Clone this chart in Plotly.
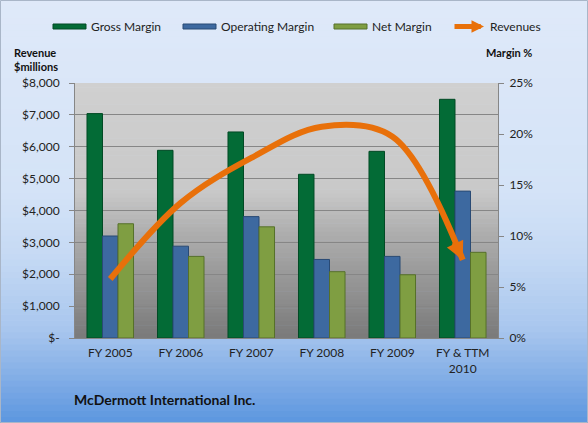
import plotly.graph_objects as go

categories = ["FY 2005", "FY 2006", "FY 2007", "FY 2008", "FY 2009", "FY & TTM<br>2010"]
gross_margin = [0.220, 0.184, 0.202, 0.1605, 0.183, 0.234]
operating_margin = [0.100, 0.090, 0.119, 0.077, 0.080, 0.144]
net_margin = [0.112, 0.080, 0.109, 0.065, 0.062, 0.084]
revenues = [1850, 4240, 5650, 6630, 6320, 2450]
rev_tickvals = [0, 1000, 2000, 3000, 4000, 5000, 6000, 7000, 8000]
rev_ticktext = ["$-", "$1,000", "$2,000", "$3,000", "$4,000", "$5,000", "$6,000", "$7,000", "$8,000"]
series_names = ["Gross Margin", "Operating Margin", "Net Margin", "Revenues"]

W, H = 588, 423
ML, MR, MT, MB = 75, 90, 83, 85
PW, PH = W - ML - MR, H - MT - MB
FONT = "Lato"
ORANGE = "#E8700A"
BAR_COLORS = ["#036B36", "#3D69A0", "#7F9E42"]
BAR_EDGES = ["#024A25", "#294A74", "#56702A"]


def px2px(X):
    return (X - ML) / PW


def py2py(Y):
    return (H - MB - Y) / PH


def hex2rgb(h):
    h = h.lstrip("#")
    return tuple(int(h[i:i + 2], 16) for i in (0, 2, 4))


def interp(stops, t):
    for (t0, c0), (t1, c1) in zip(stops, stops[1:]):
        if t0 <= t <= t1:
            f = (t - t0) / (t1 - t0) if t1 > t0 else 0
            a, b = hex2rgb(c0), hex2rgb(c1)
            return "rgb(%d,%d,%d)" % tuple(round(a[i] + (b[i] - a[i]) * f) for i in range(3))
    return stops[-1][1]


shapes = []
# figure background gradient
paper_stops = [(0, "#DFE9F9"), (0.45, "#D4E3F7"), (0.6, "#C6DAF4"), (0.78, "#A8C6EE"),
               (0.9, "#80ACE6"), (1.0, "#5B96DF")]
N = 70
for i in range(N):
    Y0 = H * i / N
    Y1 = H * (i + 1) / N + 0.6
    shapes.append(dict(type="rect", xref="paper", yref="paper", layer="below",
                       x0=px2px(0), x1=px2px(W), y0=py2py(Y1), y1=py2py(Y0),
                       line=dict(width=0), fillcolor=interp(paper_stops, (i + 0.5) / N)))
# plot area gradient
plot_stops = [(0, "#D0D0D0"), (0.42, "#C9C9C9"), (0.6, "#ACACAC"), (1.0, "#7A7A7A")]
M = 60
for i in range(M):
    Y0 = MT + PH * i / M
    Y1 = MT + PH * (i + 1) / M + 0.6
    shapes.append(dict(type="rect", xref="paper", yref="paper", layer="below",
                       x0=0, x1=1, y0=py2py(min(Y1, MT + PH)), y1=py2py(Y0),
                       line=dict(width=0), fillcolor=interp(plot_stops, (i + 0.5) / M)))
# outer border
shapes.append(dict(type="rect", xref="paper", yref="paper", layer="below",
                   x0=px2px(0.5), x1=px2px(W - 0.5), y0=py2py(H - 0.5), y1=py2py(0.5),
                   line=dict(width=1, color="#A9B6C8"), fillcolor="rgba(0,0,0,0)"))

# custom legend (Excel style)
LEG_Y = 26.5
leg_sym_x = [53, 183, 334]
leg_text_x = [89, 219, 370, 488]
for sx, col, edge in zip(leg_sym_x, BAR_COLORS, BAR_EDGES):
    shapes.append(dict(type="rect", xref="paper", yref="paper", layer="above",
                       x0=px2px(sx), x1=px2px(sx + 33), y0=py2py(LEG_Y + 2.5),
                       y1=py2py(LEG_Y - 2.5), line=dict(width=1, color=edge), fillcolor=col))

annotations = []
for tx, name in zip(leg_text_x, series_names):
    annotations.append(dict(text=name, xref="paper", yref="paper", x=px2px(tx),
                            y=py2py(LEG_Y), xanchor="left", yanchor="middle",
                            showarrow=False, font=dict(size=12, color="#222222")))
annotations.append(dict(text="", xref="paper", yref="paper", x=px2px(484), y=py2py(LEG_Y),
                        ax=-31, ay=0, showarrow=True, arrowhead=2, arrowsize=0.5,
                        arrowwidth=5, arrowcolor=ORANGE))

fig = go.Figure()
for name, vals, col, edge in zip(series_names[:3], [gross_margin, operating_margin, net_margin],
                                 BAR_COLORS, BAR_EDGES):
    fig.add_trace(go.Bar(x=categories, y=vals, name=name, yaxis="y",
                         marker=dict(color=col, line=dict(color=edge, width=1))))

fig.add_trace(go.Scatter(
    x=categories, y=revenues, yaxis="y2", mode="lines", name="Revenues",
    line=dict(color=ORANGE, width=6, shape="spline", smoothing=1.0)))

# arrowhead at the end of the revenue line
annotations.append(dict(text="", xref="x", yref="y2", x=categories[-1], y=revenues[-1],
                        ax=-9, ay=-19, showarrow=True, arrowhead=2, arrowsize=0.6,
                        arrowwidth=6, arrowcolor=ORANGE))

annotations += [
    dict(text="<b>Revenue<br>$millions</b>", xref="paper", yref="paper",
         x=px2px(12), y=py2py(59.5), xanchor="left", yanchor="middle", showarrow=False,
         align="left", font=dict(size=11, color="#111111")),
    dict(text="<b>Margin %</b>", xref="paper", yref="paper",
         x=px2px(484), y=py2py(52.5), xanchor="left", yanchor="middle", showarrow=False,
         font=dict(size=11, color="#111111")),
    dict(text="<b>McDermott International Inc.</b>", xref="paper", yref="paper",
         x=px2px(72), y=py2py(399), xanchor="left", yanchor="middle", showarrow=False,
         font=dict(size=14, color="#111111")),
]

fig.update_layout(
    width=W, height=H,
    margin=dict(l=ML, r=MR, t=MT, b=MB),
    paper_bgcolor="#DCE6F6", plot_bgcolor="rgba(0,0,0,0)",
    font=dict(family=FONT, size=12, color="#222222"),
    barmode="group", bargap=0.34, bargroupgap=0,
    showlegend=False,
    shapes=shapes,
    annotations=annotations,
    xaxis=dict(type="category", showline=True, linecolor="#868686", linewidth=1,
               ticks="", showgrid=False, ticklabelstandoff=4,
               tickfont=dict(size=12, color="#222222")),
    yaxis=dict(side="right", range=[0, 0.25], dtick=0.05, tickformat=".0%",
               showgrid=False, zeroline=False, showline=True, linecolor="#868686",
               ticks="outside", ticklen=5, tickcolor="#868686", ticklabelstandoff=3,
               tickfont=dict(size=12, color="#222222")),
    yaxis2=dict(overlaying="y", side="left", range=[0, 8000],
                tickvals=rev_tickvals, ticktext=rev_ticktext,
                showgrid=True, gridcolor="#868686", gridwidth=1, zeroline=False,
                showline=True, linecolor="#868686", ticks="outside", ticklen=5,
                tickcolor="#868686", ticklabelstandoff=7,
                tickfont=dict(size=12, color="#222222")),
)

fig.write_html("out.html")
